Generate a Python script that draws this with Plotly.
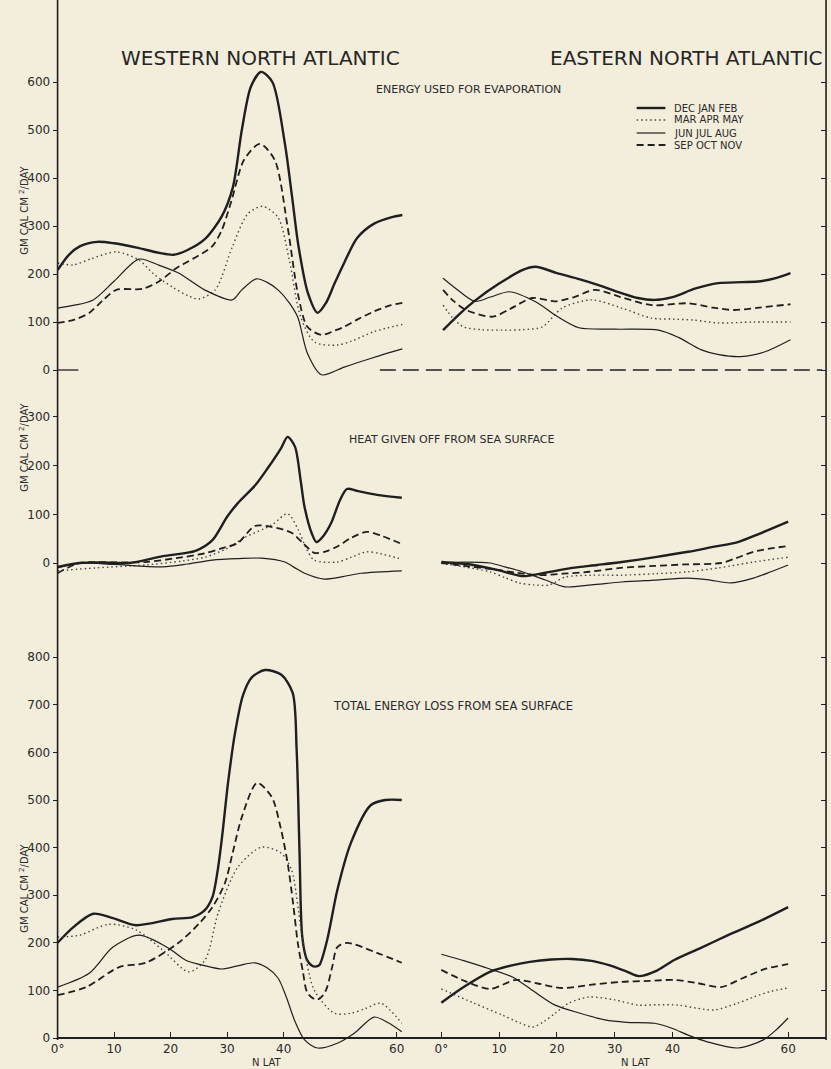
import plotly.graph_objects as go

# ---------------- data ----------------
SEASONS = ["DEC JAN FEB", "MAR APR MAY", "JUN JUL AUG", "SEP OCT NOV"]
X_TICKS = [0, 10, 20, 30, 40, 60]
X_TICK_TEXT = ["0°", "10", "20", "30", "40", "60"]
Y_TICKS_EVAP = [0, 100, 200, 300, 400, 500, 600]
Y_TICKS_HEAT = [0, 100, 200, 300]
Y_TICKS_TOTAL = [0, 100, 200, 300, 400, 500, 600, 700, 800]

# Energy used for evaporation - Western North Atlantic
EVW_DJF_LAT = [0, 2, 4, 7, 10, 14, 18, 20.5, 23, 26, 29, 31, 32.6, 34.2, 36, 38, 40.2, 41.5, 42.6, 44.3, 46, 47.5, 49, 50.7, 53, 56, 59, 61]
EVW_DJF = [208, 240, 258, 267, 264, 255, 244, 240, 250, 272, 319, 380, 500, 590, 621, 600, 473, 360, 260, 160, 119, 140, 180, 223, 275, 305, 318, 323]
EVW_MAM_LAT = [0, 2.8, 6, 10.4, 14.4, 17, 20.3, 23, 25, 27.9, 30.9, 33.7, 36.3, 39, 41, 43, 45.5, 49.5, 52, 56, 61]
EVW_MAM = [223, 219, 232, 246, 229, 200, 173, 155, 148, 167, 256, 326, 341, 318, 229, 111, 58, 52, 60, 80, 95]
EVW_JJA_LAT = [0, 3, 6.3, 10, 14.4, 18, 21.4, 26, 30.9, 32.6, 35.2, 37, 39, 41, 42.5, 44.2, 46.7, 50.7, 53, 57, 61]
EVW_JJA = [129, 135, 146, 185, 231, 218, 202, 167, 146, 167, 190, 183, 167, 140, 110, 35, -10, 6, 15, 30, 44]
EVW_SON_LAT = [0, 3, 5.6, 8, 10.4, 15, 18, 21, 24, 27.3, 29, 30.8, 33, 35.8, 38.4, 40.7, 42.5, 44.2, 46.7, 49, 50.7, 53, 56, 59, 61]
EVW_SON = [98, 105, 119, 145, 167, 169, 185, 212, 232, 257, 290, 354, 438, 471, 438, 298, 160, 90, 73, 82, 90, 105, 122, 135, 140]

# Energy used for evaporation - Eastern North Atlantic
EVE_DJF_LAT = [0.3, 3, 6, 10, 14, 16.3, 20, 24, 27.2, 30, 34, 36.9, 40, 44, 47.9, 52, 55.2, 58, 60.4]
EVE_DJF = [83, 115, 146, 180, 208, 215, 202, 189, 177, 165, 150, 146, 152, 170, 181, 183, 185, 192, 202]
EVE_MAM_LAT = [0.3, 2, 3.8, 7, 10.6, 14, 17.5, 20.9, 26, 31.2, 36.4, 40, 43.7, 47.9, 54, 60.4]
EVE_MAM = [135, 108, 90, 84, 83, 84, 90, 129, 146, 129, 108, 106, 104, 98, 100, 100]
EVE_JJA_LAT = [0.3, 3, 5.8, 8.5, 11.8, 16.3, 20, 23.8, 30, 37.6, 41, 45, 48, 51.8, 56, 60.4]
EVE_JJA = [191, 165, 143, 152, 163, 142, 112, 88, 85, 83, 68, 42, 32, 28, 38, 63]
EVE_SON_LAT = [0.3, 2, 4.3, 8.9, 12, 15.8, 19.7, 23, 26.6, 31, 36.4, 42.7, 47, 50.6, 55, 60.4]
EVE_SON = [167, 145, 125, 111, 128, 150, 143, 152, 167, 152, 135, 139, 130, 125, 130, 137]

# Heat given off from sea surface - Western North Atlantic
HTW_DJF_LAT = [0, 3.9, 8, 12.6, 18.6, 24.4, 27.4, 30, 31.9, 35, 37.2, 39.5, 40.7, 42, 43, 43.7, 45, 45.8, 47, 48.4, 50, 51.2, 53, 56.5, 60.9]
HTW_DJF = [-8, 0, 1, 0, 14, 25, 47, 95, 123, 160, 195, 235, 259, 239, 170, 115, 60, 43, 55, 82, 130, 152, 148, 140, 134]
HTW_MAM_LAT = [0, 6.8, 15.6, 22, 26.1, 30, 33.2, 37.9, 40.7, 42.6, 44, 45.4, 49.5, 52, 54.7, 57.5, 60.9]
HTW_MAM = [-16, -10, -4, 4, 12, 30, 53, 78, 101, 68, 30, 6, 2, 12, 23, 18, 8]
HTW_JJA_LAT = [0, 3.9, 10, 18.6, 23, 27.4, 32, 36.1, 40.2, 42, 43.7, 47.2, 50.5, 53.7, 60.9]
HTW_JJA = [-10, 0, -3, -8, -2, 6, 9, 10, 2, -10, -21, -33, -28, -21, -16]
HTW_SON_LAT = [0, 3.9, 10, 15.6, 21, 26.1, 29, 31.9, 34.9, 37.9, 41.4, 43.5, 45.4, 47.5, 49.5, 52, 54.7, 57.5, 60.9]
HTW_SON = [-21, 0, 1, 2, 10, 20, 30, 41, 76, 74, 62, 40, 21, 24, 34, 52, 64, 55, 39]

# Heat given off from sea surface - Eastern North Atlantic
HTE_DJF_LAT = [0, 5.5, 10, 14, 18, 22.6, 27, 31.2, 37, 42.7, 47, 51.3, 55, 60]
HTE_DJF = [2, -4, -15, -27, -20, -10, -4, 2, 12, 23, 33, 43, 60, 85]
HTE_MAM_LAT = [0, 4, 8.4, 11, 13.5, 16, 18.7, 21.4, 26, 31.2, 37, 42.7, 48, 54, 60]
HTE_MAM = [0, -8, -18, -30, -41, -45, -45, -29, -25, -25, -22, -18, -10, 2, 12]
HTE_JJA_LAT = [0, 4, 8.4, 11, 14, 18, 21.4, 26, 31.2, 37, 42.7, 46.5, 50, 54, 57, 60]
HTE_JJA = [0, 2, 0, -8, -18, -35, -49, -45, -39, -35, -31, -35, -41, -31, -18, -4]
HTE_SON_LAT = [0, 4, 8.4, 13, 17, 21, 25.6, 31, 36.9, 42, 48.4, 51, 54, 57, 60]
HTE_SON = [0, -6, -12, -20, -25, -22, -18, -10, -6, -3, 0, 10, 23, 30, 35]

# Total energy loss from sea surface - Western North Atlantic
TOW_DJF_LAT = [0, 2.8, 6.3, 9.8, 13.9, 20.3, 23.9, 26, 27.4, 28.3, 29.1, 30.2, 31.4, 32.8, 34.4, 36.7, 39.6, 41.6, 42.3, 42.8, 43.3, 44.1, 44.9, 45.6, 46.3, 47.7, 49.5, 51.9, 55.4, 58, 60.9]
TOW_DJF = [200, 233, 261, 252, 237, 250, 254, 268, 296, 350, 422, 540, 641, 720, 758, 773, 763, 725, 605, 395, 212, 165, 153, 150, 153, 206, 311, 410, 489, 500, 500]
TOW_MAM_LAT = [0, 3.9, 9.1, 13.9, 18.6, 23.2, 26.1, 28.4, 31.9, 36.1, 39.6, 41.4, 43.2, 45.4, 49, 51.9, 54.5, 57.2, 60.9]
TOW_MAM = [212, 216, 239, 227, 185, 139, 164, 262, 359, 401, 388, 353, 220, 101, 52, 52, 62, 73, 31]
TOW_JJA_LAT = [0, 5.6, 9.8, 14.4, 19.6, 22.6, 26, 29.1, 32, 34.9, 37, 39, 40.5, 41.9, 43.7, 46, 49.5, 52.5, 56, 58.5, 60.9]
TOW_JJA = [107, 136, 191, 216, 189, 164, 152, 145, 152, 158, 148, 126, 85, 38, -4, -21, -11, 10, 44, 32, 13]
TOW_SON_LAT = [0, 5.1, 10.9, 15.6, 21.4, 25, 27.4, 29.6, 31, 32.6, 35.3, 37.9, 39.5, 40.7, 41.7, 42.5, 43.4, 44.2, 45.8, 47, 47.7, 48.6, 49.5, 51.2, 56.5, 60.9]
TOW_SON = [90, 107, 149, 158, 200, 240, 275, 325, 390, 464, 536, 506, 440, 368, 280, 200, 140, 95, 80, 90, 107, 150, 191, 200, 179, 158]

# Total energy loss from sea surface - Eastern North Atlantic
TOE_DJF_LAT = [0, 4, 8.4, 12, 15.3, 19, 22.6, 26, 29, 32, 34.1, 37, 40.3, 45, 49.6, 55, 60]
TOE_DJF = [74, 108, 139, 152, 160, 165, 166, 162, 153, 140, 130, 140, 164, 190, 216, 245, 275]
TOE_MAM_LAT = [0, 5.5, 10.6, 13.5, 15.8, 17.8, 19.7, 22, 25.6, 30, 34.1, 37.5, 41, 44, 47.2, 51, 54, 57, 60]
TOE_MAM = [103, 74, 48, 32, 23, 35, 52, 73, 86, 80, 69, 70, 69, 63, 59, 72, 86, 98, 105]
TOE_JJA_LAT = [0, 4, 8.4, 12.3, 16, 19.7, 24, 28.3, 32, 36.9, 40, 42.7, 46, 51.3, 55.7, 58, 60]
TOE_JJA = [176, 162, 145, 128, 98, 69, 52, 38, 33, 31, 20, 6, -8, -21, -4, 18, 42]
TOE_SON_LAT = [0, 4, 8.4, 12.9, 16.5, 20.9, 26, 31.2, 36, 40.3, 44, 48.4, 52, 56, 60]
TOE_SON = [143, 120, 103, 122, 115, 105, 112, 118, 120, 122, 116, 107, 125, 145, 155]

PANEL_TITLES = ["ENERGY USED FOR EVAPORATION", "HEAT GIVEN OFF FROM SEA SURFACE", "TOTAL ENERGY LOSS FROM SEA SURFACE"]
REGION_TITLES = ["WESTERN NORTH ATLANTIC", "EASTERN NORTH ATLANTIC"]
Y_TITLE = "GM CAL CM <sup>2</sup>/DAY"
X_TITLE = "N LAT"

# ---------------- layout helpers ----------------
W, H = 831, 1069
BG = "#f3eddb"
INK = "#1f1f1f"
TXT = "#2a2a2a"
FONT = "DejaVu Sans"


def fx(p):
    return p / W


def fy(p):
    return 1 - p / H


# row: (top px, bottom px, px of value 0, px per unit)
ROWS = [(0, 380, 370, 0.48), (380, 620, 563, 0.487), (620, 1060, 1038, 0.476)]
# col: (left px, right px, px of 0 deg, px per degree)
COLS = [(51, 420, 51, 5.7), (420, 826, 438, 5.83)]
ROW_TICKS = [Y_TICKS_EVAP, Y_TICKS_HEAT, Y_TICKS_TOTAL]

STYLES = [
    dict(width=2.4, dash="solid", color=INK),
    dict(width=1.4, dash="1.5px,3px", color="#444444"),
    dict(width=1.2, dash="solid", color=INK),
    dict(width=1.8, dash="7px,4px", color=INK),
]

CURVES = [
    [(EVW_DJF_LAT, EVW_DJF), (EVW_MAM_LAT, EVW_MAM), (EVW_JJA_LAT, EVW_JJA), (EVW_SON_LAT, EVW_SON)],
    [(EVE_DJF_LAT, EVE_DJF), (EVE_MAM_LAT, EVE_MAM), (EVE_JJA_LAT, EVE_JJA), (EVE_SON_LAT, EVE_SON)],
    [(HTW_DJF_LAT, HTW_DJF), (HTW_MAM_LAT, HTW_MAM), (HTW_JJA_LAT, HTW_JJA), (HTW_SON_LAT, HTW_SON)],
    [(HTE_DJF_LAT, HTE_DJF), (HTE_MAM_LAT, HTE_MAM), (HTE_JJA_LAT, HTE_JJA), (HTE_SON_LAT, HTE_SON)],
    [(TOW_DJF_LAT, TOW_DJF), (TOW_MAM_LAT, TOW_MAM), (TOW_JJA_LAT, TOW_JJA), (TOW_SON_LAT, TOW_SON)],
    [(TOE_DJF_LAT, TOE_DJF), (TOE_MAM_LAT, TOE_MAM), (TOE_JJA_LAT, TOE_JJA), (TOE_SON_LAT, TOE_SON)],
]

fig = go.Figure()
layout = {}

for k in range(6):
    r, c = divmod(k, 2)
    n = k + 1
    t, b, z, ppu = ROWS[r]
    l, rt, z0, ppd = COLS[c]
    xa = dict(domain=[fx(l), fx(rt)], range=[(l - z0) / ppd, (rt - z0) / ppd],
              showgrid=False, zeroline=False, fixedrange=True)
    if r == 2:
        xa.update(anchor="free", position=fy(1038), showline=True, linecolor=INK, linewidth=1.5,
                  ticks="inside", ticklen=5, tickwidth=1.2, tickcolor=INK,
                  tickvals=X_TICKS, ticktext=X_TICK_TEXT,
                  tickfont=dict(family=FONT, size=12, color=TXT))
    else:
        xa.update(visible=False, anchor=f"y{n}")
    ya = dict(domain=[fy(b), fy(t)], range=[(z - b) / ppu, (z - t) / ppu],
              showgrid=False, zeroline=False, anchor=f"x{n}", fixedrange=True,
              tickvals=ROW_TICKS[r], tickcolor=INK, tickwidth=1.2)
    if c == 0:
        ya.update(side="left", ticks="outside", ticklen=4, showticklabels=True,
                  tickfont=dict(family=FONT, size=12, color=TXT))
    else:
        ya.update(side="right", ticks="inside", ticklen=5, showticklabels=False)
    layout["xaxis" if n == 1 else f"xaxis{n}"] = xa
    layout["yaxis" if n == 1 else f"yaxis{n}"] = ya

    for s, (lat, vals) in enumerate(CURVES[k]):
        fig.add_trace(go.Scatter(
            x=lat, y=vals, mode="lines", name=SEASONS[s],
            line=dict(shape="spline", smoothing=0.8, **STYLES[s]),
            xaxis=f"x{n}", yaxis=f"y{n}", showlegend=False,
            hovertemplate="%{x}° N: %{y}<extra>" + SEASONS[s] + "</extra>",
        ))

shapes = [
    # continuous left axis and right frame
    dict(type="line", xref="paper", yref="paper", x0=fx(51), x1=fx(51), y0=1, y1=fy(1040),
         line=dict(color=INK, width=1.6)),
    dict(type="line", xref="paper", yref="paper", x0=fx(826), x1=fx(826), y0=1, y1=fy(1040),
         line=dict(color=INK, width=1.6)),
    # zero lines in the evaporation panel
    dict(type="line", xref="paper", yref="y", x0=fx(51), x1=fx(72), y0=0, y1=0,
         line=dict(color=INK, width=1.3)),
    dict(type="line", xref="paper", yref="y2", x0=fx(376), x1=fx(822), y0=0, y1=0,
         line=dict(color=INK, width=1.6, dash="16px,7px")),
]

annotations = []
# region titles
annotations.append(dict(text=REGION_TITLES[0], x=fx(256), y=fy(58), xref="paper", yref="paper",
                        showarrow=False, xanchor="center", yanchor="middle",
                        font=dict(family=FONT, size=20, color="#262626")))
annotations.append(dict(text=REGION_TITLES[1], x=fx(825), y=fy(58), xref="paper", yref="paper",
                        showarrow=False, xanchor="right", yanchor="middle",
                        font=dict(family=FONT, size=20, color="#262626")))
# panel titles
for txt, xl, yc, fs in zip(PANEL_TITLES, [370, 343, 327], [90, 440, 706], [11, 11, 11.5]):
    annotations.append(dict(text=txt, x=fx(xl), y=fy(yc), xref="paper", yref="paper",
                            showarrow=False, xanchor="left", yanchor="middle",
                            font=dict(family=FONT, size=fs, color=TXT)))
# y titles
for yc in [210, 447, 888]:
    annotations.append(dict(text=Y_TITLE, x=fx(17), y=fy(yc), xref="paper", yref="paper",
                            showarrow=False, textangle=-90, xanchor="center", yanchor="middle",
                            font=dict(family=FONT, size=10, color=TXT)))
# x titles
for xc in [262, 634]:
    annotations.append(dict(text=X_TITLE, x=fx(xc), y=fy(1062), xref="paper", yref="paper",
                            showarrow=False, xanchor="center", yanchor="middle",
                            font=dict(family=FONT, size=10, color=TXT)))

# hand-drawn legend (top right)
LEG_Y = [108, 120, 133, 145]
for s, yc in enumerate(LEG_Y):
    shapes.append(dict(type="line", xref="paper", yref="paper", x0=fx(635), x1=fx(664),
                       y0=fy(yc), y1=fy(yc), line=dict(**STYLES[s])))
    annotations.append(dict(text=SEASONS[s], x=fx(671), y=fy(yc), xref="paper", yref="paper",
                            showarrow=False, xanchor="left", yanchor="middle",
                            font=dict(family=FONT, size=10, color=TXT)))

fig.update_layout(
    width=W, height=H, autosize=False,
    margin=dict(l=0, r=0, t=0, b=0),
    paper_bgcolor=BG, plot_bgcolor=BG,
    showlegend=False,
    shapes=shapes, annotations=annotations,
    **layout,
)

fig.write_html(
    "out.html",
    config={"displayModeBar": False},
    post_script="document.body.style.margin='0';document.body.style.background='" + BG + "';",
)
